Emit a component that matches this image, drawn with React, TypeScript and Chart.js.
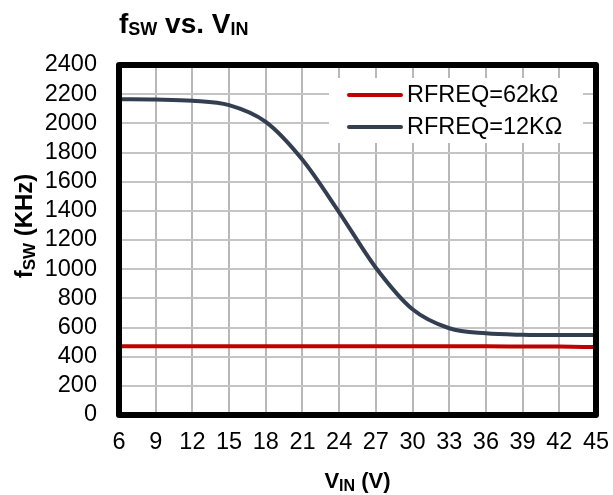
import { useEffect, useRef } from "react";
import { Chart, registerables } from "chart.js";

Chart.register(...registerables);

// ---- data ----
const vinVolts = [6, 9, 12, 15, 18, 21, 24, 27, 30, 33, 36, 39, 42, 45];
const fsw62k = [471, 471, 471, 471, 471, 471, 471, 471, 471, 471, 471, 470, 469, 466];
const fsw12k = [2165, 2163, 2155, 2125, 2010, 1750, 1390, 1010, 725, 595, 560, 550, 548, 548];
const seriesNames = ["RFREQ=62kΩ", "RFREQ=12KΩ"];
const seriesColors = ["#C00000", "#333F50"];
const titleParts = [
  { t: "f", sub: false },
  { t: "SW", sub: true },
  { t: " vs. V", sub: false },
  { t: "IN", sub: true },
];
const yTitleParts = [
  { t: "f", sub: false },
  { t: "SW", sub: true },
  { t: " (KHz)", sub: false },
];
const xTitleParts = [
  { t: "V", sub: false },
  { t: "IN", sub: true },
  { t: " (V)", sub: false },
];

const FONT = '"Liberation Sans", Arial, Helvetica, sans-serif';

type Part = { t: string; sub: boolean };

function drawRich(
  ctx: CanvasRenderingContext2D,
  parts: Part[],
  x: number,
  y: number,
  size: number,
  subSize: number,
  subShift: number,
  align: "left" | "center"
) {
  const widths = parts.map((p) => {
    ctx.font = `bold ${p.sub ? subSize : size}px ${FONT}`;
    return ctx.measureText(p.t).width;
  });
  const total = widths.reduce((a, b) => a + b, 0);
  let cx = align === "center" ? x - total / 2 : x;
  ctx.textAlign = "left";
  ctx.textBaseline = "alphabetic";
  parts.forEach((p, i) => {
    ctx.font = `bold ${p.sub ? subSize : size}px ${FONT}`;
    ctx.fillText(p.t, cx, y + (p.sub ? subShift : 0));
    cx += widths[i];
  });
}

const decorPlugin = {
  id: "decor",
  afterDatasetsDraw(chart: any) {
    const ctx: CanvasRenderingContext2D = chart.ctx;
    const { left, right, top, bottom } = chart.chartArea;
    ctx.save();
    // legend box
    ctx.fillStyle = "#ffffff";
    ctx.fillRect(329, 78, 254, 65);
    const rows = [95, 127];
    rows.forEach((yy, i) => {
      ctx.strokeStyle = seriesColors[i];
      ctx.lineWidth = 4;
      ctx.lineCap = "round";
      ctx.beginPath();
      ctx.moveTo(349, yy);
      ctx.lineTo(401, yy);
      ctx.stroke();
      ctx.fillStyle = "#000";
      ctx.font = `23.5px ${FONT}`;
      ctx.textAlign = "left";
      ctx.textBaseline = "middle";
      ctx.fillText(seriesNames[i], 407, yy + 1);
    });
    // border
    ctx.strokeStyle = "#000";
    ctx.lineWidth = 6;
    ctx.lineJoin = "round";
    ctx.strokeRect(left, top, right - left, bottom - top);
    ctx.restore();
  },
  afterDraw(chart: any) {
    const ctx: CanvasRenderingContext2D = chart.ctx;
    const { left, right } = chart.chartArea;
    ctx.save();
    ctx.fillStyle = "#000";
    // title
    drawRich(ctx, titleParts, left, 33, 28, 18, 2, "left");
    // x title
    drawRich(ctx, xTitleParts, (left + right) / 2, 488, 22, 16, 3, "center");
    // y title
    ctx.translate(32, 226);
    ctx.rotate(-Math.PI / 2);
    drawRich(ctx, yTitleParts, 0, 0, 24, 17, 3, "center");
    ctx.restore();
  },
};

export default function App() {
  const ref = useRef<HTMLCanvasElement | null>(null);
  useEffect(() => {
    document.body.style.margin = "0";
    const canvas = ref.current!;
    const chart = new Chart(canvas, {
      type: "line",
      data: {
        labels: vinVolts,
        datasets: [
          {
            label: seriesNames[0],
            data: vinVolts.map((x, i) => ({ x, y: fsw62k[i] })),
            borderColor: seriesColors[0],
            borderWidth: 4,
            pointRadius: 0,
            cubicInterpolationMode: "monotone",
          },
          {
            label: seriesNames[1],
            data: vinVolts.map((x, i) => ({ x, y: fsw12k[i] })),
            borderColor: seriesColors[1],
            borderWidth: 4,
            pointRadius: 0,
            cubicInterpolationMode: "monotone",
          },
        ],
      },
      options: {
        animation: false,
        responsive: false,
        devicePixelRatio: 1,
        layout: { padding: { left: 0, right: 17, top: 65, bottom: 0 } },
        plugins: { legend: { display: false }, title: { display: false }, tooltip: { enabled: false } },
        scales: {
          x: {
            type: "linear",
            min: 6,
            max: 45,
            ticks: {
              stepSize: 3,
              color: "#000",
              font: { family: FONT, size: 23.5 },
              padding: 13,
              maxRotation: 0,
              autoSkip: false,
              callback: (v: any) => String(v),
            },
            grid: { color: "#b8b8b8", lineWidth: 2, drawTicks: false },
            border: { display: false },
            afterFit(scale: any) {
              scale.height = 80;
              scale.paddingLeft = 0;
              scale.paddingRight = 0;
            },
          },
          y: {
            min: 0,
            max: 2400,
            ticks: {
              stepSize: 200,
              color: "#000",
              font: { family: FONT, size: 23.5 },
              padding: 22,
              autoSkip: false,
              callback: (v: any) => String(v),
            },
            grid: { color: "#c4c4c4", lineWidth: 2, drawTicks: false },
            border: { display: false },
            afterFit(scale: any) {
              scale.width = 119;
              scale.paddingTop = 0;
              scale.paddingBottom = 0;
            },
          },
        },
      },
      plugins: [decorPlugin],
    } as any);
    return () => chart.destroy();
  }, []);
  return (
    <div style={{ width: 613, height: 495 }}>
      <canvas ref={ref} width={613} height={495} style={{ display: "block" }} />
    </div>
  );
}
